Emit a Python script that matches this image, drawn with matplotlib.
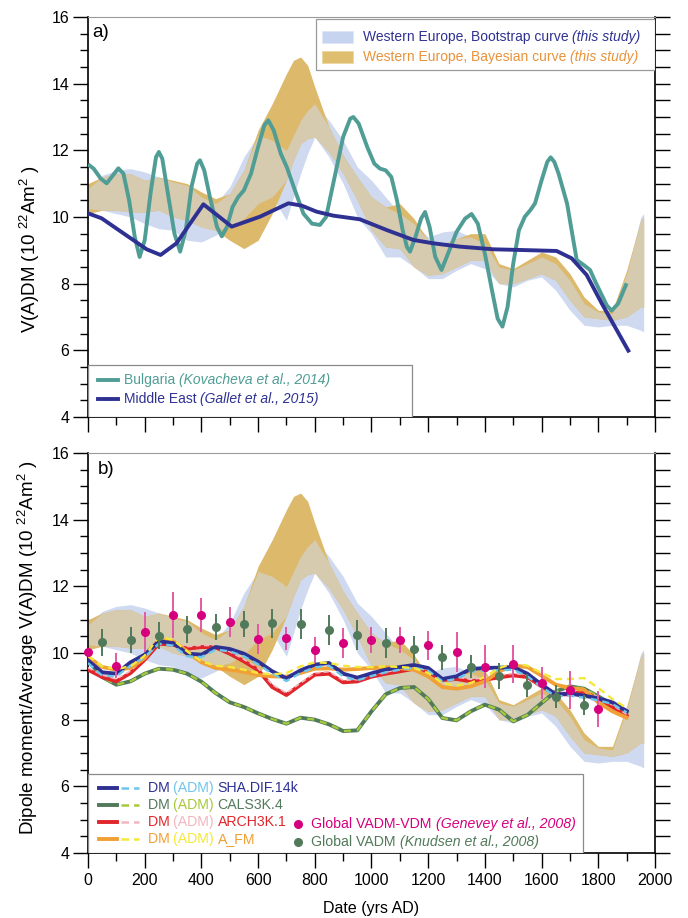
import numpy as np
import matplotlib
matplotlib.use('Agg')
import matplotlib.pyplot as plt
from matplotlib.ticker import MultipleLocator, NullLocator
from matplotlib.patches import Rectangle

plt.rcParams['font.family'] = 'Liberation Sans'
plt.rcParams['mathtext.fontset'] = 'custom'
plt.rcParams['mathtext.rm'] = 'Liberation Sans'
plt.rcParams['mathtext.it'] = 'Liberation Sans:italic'

# ---------- Western Europe bands (both panels) ----------
band_years = [0, 50, 100, 150, 200, 250, 300, 350, 400, 450, 500, 550, 600, 650, 700, 725,
              750, 775, 800, 850, 900, 950, 1000, 1050, 1100, 1150, 1200, 1250, 1300, 1350,
              1400, 1450, 1500, 1550, 1600, 1650, 1700, 1750, 1800, 1850, 1900, 1950, 1960]
bayes_lo = [10.10, 10.20, 10.20, 10.15, 10.15, 10.20, 10.00, 9.90, 9.70, 9.60, 9.30, 9.05,
            9.30, 10.10, 11.10, 11.70, 12.20, 12.35, 12.40, 11.95, 11.30, 10.50, 9.60, 9.10,
            9.05, 8.50, 8.25, 8.30, 8.50, 8.70, 8.70, 8.00, 8.00, 8.15, 8.30, 8.10, 7.50,
            7.00, 6.95, 6.90, 7.00, 7.30, 7.30]
bayes_hi = [11.00, 11.20, 11.30, 11.30, 11.10, 11.20, 11.10, 11.00, 10.75, 10.55, 10.70,
            11.40, 12.60, 13.40, 14.30, 14.70, 14.80, 14.55, 13.90, 12.70, 11.85, 11.20,
            10.60, 10.30, 10.40, 9.95, 9.30, 9.20, 9.35, 9.50, 9.50, 8.60, 8.45, 8.70, 8.95,
            8.80, 8.30, 7.60, 7.20, 7.20, 8.40, 9.90, 10.00]
boot_lo = [10.25, 10.20, 10.10, 10.00, 9.80, 9.65, 9.60, 9.30, 9.25, 9.45, 9.70, 9.95,
           10.40, 10.60, 9.90, 10.60, 11.30, 11.90, 12.40, 11.80, 11.00, 10.00, 9.50, 8.80,
           8.80, 8.50, 8.15, 8.15, 8.40, 8.60, 8.45, 8.00, 7.90, 8.10, 8.20, 7.80, 7.20,
           6.75, 6.70, 6.75, 6.75, 6.60, 6.55]
boot_hi = [10.85, 11.25, 11.40, 11.45, 11.35, 11.20, 11.05, 10.95, 10.60, 10.40, 10.90,
           11.80, 12.45, 12.30, 12.00, 12.45, 12.90, 13.20, 13.40, 12.90, 12.30, 11.50,
           11.10, 10.60, 10.10, 9.80, 9.40, 9.55, 9.60, 9.40, 9.20, 8.50, 8.40, 8.60, 8.80,
           8.60, 8.10, 7.40, 7.15, 7.10, 8.30, 10.00, 10.10]

# ---------- panel a curves ----------
bulgaria_years = [0, 20, 45, 66, 88, 107, 125, 145, 165, 182, 200, 222, 240, 250, 262, 280,
                  305, 325, 345, 365, 385, 395, 410, 430, 455, 472, 490, 510, 530, 550, 575,
                  600, 622, 636, 655, 680, 701, 730, 760, 790, 818, 840, 870, 900, 925, 936,
                  955, 985, 1010, 1030, 1050, 1070, 1090, 1110, 1125, 1136, 1155, 1175, 1189,
                  1205, 1225, 1247, 1270, 1300, 1330, 1353, 1375, 1400, 1425, 1445, 1462, 1480,
                  1500, 1520, 1541, 1560, 1577, 1600, 1620, 1632, 1645, 1660, 1690, 1710, 1724,
                  1750, 1771, 1790, 1810, 1830, 1847, 1870, 1900]
bulgaria_vals = [11.58, 11.45, 11.15, 11.01, 11.25, 11.46, 11.30, 10.50, 9.40, 8.80, 9.30,
                 10.80, 11.80, 11.95, 11.75, 10.80, 9.50, 8.96, 9.60, 10.90, 11.60, 11.70,
                 11.40, 10.60, 9.70, 9.42, 9.70, 10.30, 10.60, 10.80, 11.30, 12.10, 12.75,
                 12.90, 12.60, 11.90, 11.50, 10.80, 10.10, 9.80, 9.76, 10.00, 11.20, 12.40,
                 12.95, 13.00, 12.80, 12.10, 11.60, 11.45, 11.40, 11.20, 10.50, 9.60, 9.10,
                 8.96, 9.40, 9.95, 10.15, 9.70, 8.80, 8.41, 8.90, 9.55, 9.95, 10.09, 9.80,
                 8.90, 7.80, 6.95, 6.71, 7.30, 8.60, 9.60, 10.01, 10.20, 10.41, 11.10, 11.65,
                 11.79, 11.65, 11.30, 10.40, 9.40, 8.71, 8.55, 8.41, 8.05, 7.70, 7.35, 7.19,
                 7.40, 8.01]

mideast_years = [0, 48, 207, 256, 312, 407, 507, 607, 707, 754, 806, 865, 959, 1053, 1148,
                 1218, 1312, 1430, 1524, 1653, 1706, 1759, 1812, 1906]
mideast_vals = [10.11, 9.96, 9.03, 8.86, 9.21, 10.38, 9.71, 10.01, 10.41, 10.34, 10.16, 10.04,
                9.93, 9.61, 9.31, 9.21, 9.11, 9.03, 9.01, 8.98, 8.76, 8.26, 7.41, 5.99]

# ---------- panel b model curves ----------
model_years = [0, 50, 100, 150, 200, 250, 300, 350, 400, 450, 500, 550, 600, 650, 700, 750,
               800, 850, 900, 950, 1000, 1050, 1100, 1150, 1200, 1250, 1300, 1350, 1400,
               1450, 1500, 1550, 1600, 1650, 1700, 1750, 1800, 1850, 1900]
sha_dm = [9.78, 9.42, 9.38, 9.72, 9.95, 10.35, 10.30, 9.98, 9.95, 10.18, 10.12, 9.98, 9.74,
          9.45, 9.24, 9.48, 9.65, 9.70, 9.38, 9.26, 9.39, 9.50, 9.58, 9.64, 9.55, 9.22, 9.30,
          9.52, 9.55, 9.56, 9.58, 9.38, 9.05, 8.76, 8.78, 8.72, 8.64, 8.52, 8.26]
sha_adm = [9.70, 9.32, 9.30, 9.62, 9.88, 10.28, 10.22, 9.90, 9.88, 10.10, 10.05, 9.90, 9.66,
           9.38, 9.16, 9.40, 9.57, 9.62, 9.30, 9.18, 9.31, 9.42, 9.50, 9.56, 9.47, 9.15, 9.22,
           9.44, 9.47, 9.48, 9.50, 9.30, 8.98, 8.70, 8.72, 8.66, 8.58, 8.47, 8.22]
cals_dm = [9.78, 9.28, 9.05, 9.15, 9.38, 9.53, 9.50, 9.38, 9.14, 8.80, 8.52, 8.38, 8.19,
           8.02, 7.88, 8.06, 8.00, 7.86, 7.66, 7.68, 8.25, 8.76, 8.95, 8.98, 8.62, 8.05, 7.98,
           8.25, 8.45, 8.30, 7.95, 8.14, 8.50, 8.85, 9.00, 8.93, 8.70, 8.45, 8.22]
cals_adm = [9.78, 9.28, 9.05, 9.15, 9.38, 9.53, 9.50, 9.38, 9.14, 8.80, 8.52, 8.38, 8.19,
            8.02, 7.88, 8.06, 8.00, 7.86, 7.66, 7.68, 8.25, 8.76, 8.95, 8.98, 8.62, 8.05, 7.98,
            8.25, 8.45, 8.30, 7.95, 8.14, 8.50, 8.85, 9.00, 8.93, 8.70, 8.45, 8.22]
arch_dm = [9.50, 9.28, 9.15, 9.40, 9.80, 10.28, 10.25, 10.13, 10.18, 10.17, 9.98, 9.75, 9.49,
           8.98, 8.74, 9.05, 9.35, 9.38, 9.12, 9.15, 9.29, 9.38, 9.45, 9.53, 9.42, 9.19, 9.22,
           9.15, 9.20, 9.27, 9.33, 9.28, 9.00, 8.76, 8.76, 8.84, 8.62, 8.38, 8.12]
arch_adm = [9.56, 9.34, 9.22, 9.46, 9.86, 10.33, 10.31, 10.19, 10.23, 10.22, 10.04, 9.81,
            9.55, 9.05, 8.80, 9.10, 9.40, 9.44, 9.18, 9.20, 9.34, 9.43, 9.50, 9.58, 9.47,
            9.25, 9.28, 9.21, 9.26, 9.33, 9.39, 9.34, 9.06, 8.82, 8.82, 8.90, 8.68, 8.44, 8.16]
afm_dm = [9.88, 9.58, 9.50, 9.55, 9.85, 10.40, 10.35, 10.05, 9.72, 9.55, 9.50, 9.44, 9.34,
          9.30, 9.29, 9.40, 9.53, 9.54, 9.50, 9.52, 9.55, 9.57, 9.55, 9.50, 9.30, 8.98, 8.93,
          9.00, 9.15, 9.45, 9.62, 9.58, 9.32, 9.05, 8.95, 8.90, 8.52, 8.25, 8.06]
afm_adm = [9.92, 9.60, 9.52, 9.60, 9.92, 10.48, 10.40, 10.05, 9.75, 9.62, 9.58, 9.50, 9.40,
           9.36, 9.40, 9.60, 9.72, 9.70, 9.62, 9.58, 9.58, 9.60, 9.58, 9.55, 9.40, 9.10, 9.02,
           9.10, 9.28, 9.55, 9.68, 9.62, 9.40, 9.22, 9.22, 9.25, 8.95, 8.62, 8.35]

# ---------- panel b data points ----------
genevey_years = [0, 100, 200, 300, 400, 500, 600, 700, 800, 900, 1000, 1100, 1200, 1300,
                 1400, 1500, 1600, 1700, 1800]
genevey_vals = [10.02, 9.62, 10.64, 11.14, 11.14, 10.94, 10.41, 10.44, 10.09, 10.31, 10.39,
                10.39, 10.23, 10.04, 9.59, 9.67, 9.09, 8.89, 8.32]
genevey_err = [0.0, 0.38, 0.60, 0.70, 0.52, 0.45, 0.45, 0.35, 0.39, 0.45, 0.40, 0.40, 0.43,
               0.60, 0.65, 0.58, 0.48, 0.56, 0.53]
knudsen_years = [50, 150, 250, 350, 450, 550, 650, 750, 850, 950, 1050, 1150, 1250, 1350,
                 1450, 1550, 1650, 1750]
knudsen_vals = [10.32, 10.39, 10.52, 10.71, 10.77, 10.87, 10.89, 10.87, 10.69, 10.54, 10.29,
                10.11, 9.87, 9.59, 9.31, 9.03, 8.69, 8.44]
knudsen_err = [0.41, 0.40, 0.41, 0.40, 0.39, 0.39, 0.43, 0.45, 0.45, 0.45, 0.45, 0.41, 0.38,
               0.35, 0.38, 0.35, 0.34, 0.30]

# colours
c_boot = '#CFDAF1'
c_bayes = '#DDB96B'
c_overlap = '#D6CAAF'
c_teal = '#4F9D95'
c_navy = '#2E3192'
c_lblue = '#6EC6EC'
c_green = '#517A5A'
c_ygreen = '#A7C93C'
c_red = '#E0262B'
c_pink = '#F3B6BF'
c_orange = '#F0A035'
c_yellow = '#F4E83A'
c_magenta = '#D6007F'
c_orange_txt = '#E8923A'

fig = plt.figure(figsize=(6.88, 9.18), dpi=100)
ax1 = fig.add_axes([0.1279, 0.5458, 0.8241, 0.4357])
ax2 = fig.add_axes([0.1279, 0.0708, 0.8241, 0.4357])


def style_axes(ax, show_xlabels):
    ax.set_xlim(0, 2000)
    ax.set_ylim(4, 16)
    ax.xaxis.set_major_locator(MultipleLocator(200))
    ax.xaxis.set_minor_locator(MultipleLocator(100))
    ax.yaxis.set_major_locator(MultipleLocator(2))
    ax.yaxis.set_minor_locator(MultipleLocator(0.5))
    ax.tick_params(which='major', direction='out', length=10.5, width=1.0, labelsize=11.5, pad=3)
    ax.tick_params(which='minor', direction='out', length=5.5, width=1.0)
    ax.tick_params(top=False, right=False, labelbottom=show_xlabels)
    ax.tick_params(axis='x', which='major', pad=4)
    for s in ['left', 'bottom']:
        ax.spines[s].set_linewidth(1.2)
    ax.spines['top'].set_color('#9a9a9a')
    ax.spines['top'].set_linewidth(0.8)
    ax.spines['right'].set_visible(False)
    sec = ax.secondary_yaxis('right')
    sec.yaxis.set_major_locator(MultipleLocator(0.5))
    sec.yaxis.set_minor_locator(NullLocator())
    sec.tick_params(direction='out', length=10.5, width=1.0, labelright=False)
    sec.spines['right'].set_linewidth(1.2)


def draw_bands(ax):
    x = np.array(band_years)
    glo, ghi = np.array(bayes_lo), np.array(bayes_hi)
    blo, bhi = np.array(boot_lo), np.array(boot_hi)
    ax.fill_between(x, blo, bhi, color=c_boot, lw=0, zorder=1)
    ax.fill_between(x, glo, ghi, color=c_bayes, lw=0, zorder=1.1)
    lo = np.maximum(glo, blo)
    hi = np.minimum(ghi, bhi)
    ax.fill_between(x, lo, hi, where=hi > lo, interpolate=True, color=c_overlap, lw=0, zorder=1.2)


def concat_text(ax, x, y, pieces, size):
    s, c, st = pieces[0]
    t = ax.text(x, y, s, color=c, style=st, fontsize=size, transform=ax.transAxes,
                ha='left', va='center', zorder=7)
    for s, c, st in pieces[1:]:
        t = ax.annotate(s, xy=(1, 0), xycoords=t, ha='left', va='bottom', color=c,
                        style=st, fontsize=size, zorder=7)


# ================= panel a =================
style_axes(ax1, False)
draw_bands(ax1)
ax1.plot(bulgaria_years, bulgaria_vals, color=c_teal, lw=2.8, zorder=3, solid_capstyle='butt')
ax1.plot(mideast_years, mideast_vals, color=c_navy, lw=2.8, zorder=3.5, solid_joinstyle='round')
ax1.text(0.008, 0.96, 'a)', transform=ax1.transAxes, fontsize=13.5, ha='left', va='center')

# top-right legend
ax1.add_patch(Rectangle((0.402, 0.8675), 0.598, 0.128, transform=ax1.transAxes,
                        fc='white', ec='#9a9a9a', lw=0.9, zorder=5))
ax1.add_patch(Rectangle((0.412, 0.935), 0.055, 0.03, transform=ax1.transAxes,
                        fc='#C6D4EF', ec='#dfe6f5', lw=0.6, zorder=6))
ax1.add_patch(Rectangle((0.412, 0.884), 0.055, 0.03, transform=ax1.transAxes,
                        fc='#E0BE6F', ec='#ecd6a2', lw=0.6, zorder=6))
concat_text(ax1, 0.4845, 0.95, [('Western Europe, Bootstrap curve ', c_navy, 'normal'),
                                ('(this study)', c_navy, 'italic')], 10)
concat_text(ax1, 0.4845, 0.899, [('Western Europe, Bayesian curve ', c_orange_txt, 'normal'),
                                 ('(this study)', c_orange_txt, 'italic')], 10)

# bottom-left legend
ax1.add_patch(Rectangle((0, 0), 0.571, 0.13, transform=ax1.transAxes,
                        fc='white', ec='#8a8a8a', lw=0.9, zorder=5))
ax1.plot([0.018, 0.053], [0.0925, 0.0925], transform=ax1.transAxes, color=c_teal, lw=2.8, zorder=6)
ax1.plot([0.018, 0.053], [0.044, 0.044], transform=ax1.transAxes, color=c_navy, lw=2.8, zorder=6)
concat_text(ax1, 0.063, 0.0925, [('Bulgaria ', c_teal, 'normal'),
                                 ('(Kovacheva et al., 2014)', c_teal, 'italic')], 10)
concat_text(ax1, 0.063, 0.044, [('Middle East ', c_navy, 'normal'),
                                ('(Gallet et al., 2015)', c_navy, 'italic')], 10)

# ================= panel b =================
style_axes(ax2, True)
draw_bands(ax2)
lw_dm = 2.8
lw_adm = 1.7
ax2.plot(model_years, cals_dm, color=c_green, lw=lw_dm, zorder=3)
ax2.plot(model_years, cals_adm, color=c_ygreen, lw=lw_adm, ls=(0, (3, 2.5)), zorder=3.05)
ax2.plot(model_years, arch_dm, color=c_red, lw=lw_dm, zorder=3.1)
ax2.plot(model_years, arch_adm, color=c_pink, lw=1.2, ls=(0, (3, 2)), zorder=3.15)
ax2.plot(model_years, afm_dm, color=c_orange, lw=lw_dm, zorder=3.2)
ax2.plot(model_years, sha_dm, color=c_navy, lw=lw_dm, zorder=3.3)
ax2.plot(model_years, sha_adm, color=c_lblue, lw=lw_adm, ls=(0, (3, 2)), zorder=3.35)
ax2.plot(model_years, afm_adm, color=c_yellow, lw=lw_adm, ls=(0, (3, 2)), zorder=3.4)

ax2.errorbar(knudsen_years, knudsen_vals, yerr=knudsen_err, fmt='o', color=c_green,
             ecolor=c_green, ms=5.5, elinewidth=1.4, capsize=0, zorder=4)
ax2.errorbar(genevey_years, genevey_vals, yerr=genevey_err, fmt='o', color=c_magenta,
             ecolor='#E25AA3', ms=5.5, elinewidth=1.4, capsize=0, zorder=4.1, clip_on=False)
ax2.text(0.018, 0.96, 'b)', transform=ax2.transAxes, fontsize=13.5, ha='left', va='center')

# bottom legend
ax2.add_patch(Rectangle((0, 0), 0.873, 0.1975, transform=ax2.transAxes,
                        fc='white', ec='#8a8a8a', lw=0.9, zorder=5))
legend_rows = [
    (0.163, c_navy, c_lblue, 'SHA.DIF.14k'),
    (0.121, c_green, c_ygreen, 'CALS3K.4'),
    (0.078, c_red, c_pink, 'ARCH3K.1'),
    (0.035, c_orange, c_yellow, 'A_FM'),
]
for yy, cdm, cadm, name in legend_rows:
    ax2.plot([0.02, 0.052], [yy, yy], transform=ax2.transAxes, color=cdm, lw=2.8, zorder=6)
    ax2.plot([0.059, 0.09], [yy, yy], transform=ax2.transAxes, color=cadm, lw=1.8,
             ls=(0, (3, 2)), zorder=6)
    concat_text(ax2, 0.105, yy, [('DM ', cdm, 'normal'), ('(ADM) ', cadm, 'normal'),
                                 (name, cdm, 'normal')], 10.2)

ax2.plot([0.371], [0.0725], 'o', ms=5.5, color=c_magenta, transform=ax2.transAxes, zorder=6)
ax2.plot([0.371], [0.028], 'o', ms=5.5, color=c_green, transform=ax2.transAxes, zorder=6)
concat_text(ax2, 0.394, 0.0725, [('Global VADM-VDM ', c_magenta, 'normal'),
                                 ('(Genevey et al., 2008)', c_magenta, 'italic')], 10.2)
concat_text(ax2, 0.394, 0.028, [('Global VADM ', c_green, 'normal'),
                                ('(Knudsen et al., 2008)', c_green, 'italic')], 10.2)

# axis labels
fig.text(30 / 688, 1 - 249 / 918, r'V(A)DM (10 $^{22}$Am$^{2}$ )', rotation=90,
         ha='center', va='center', fontsize=13.5)
fig.text(28 / 688, 1 - 648 / 918, r'Dipole moment/Average V(A)DM (10 $^{22}$Am$^{2}$ )',
         rotation=90, ha='center', va='center', fontsize=13.5)
fig.text(371 / 688, 1 - 908 / 918, 'Date (yrs AD)', ha='center', va='center', fontsize=11.5)

fig.savefig('out.png', dpi=100)
